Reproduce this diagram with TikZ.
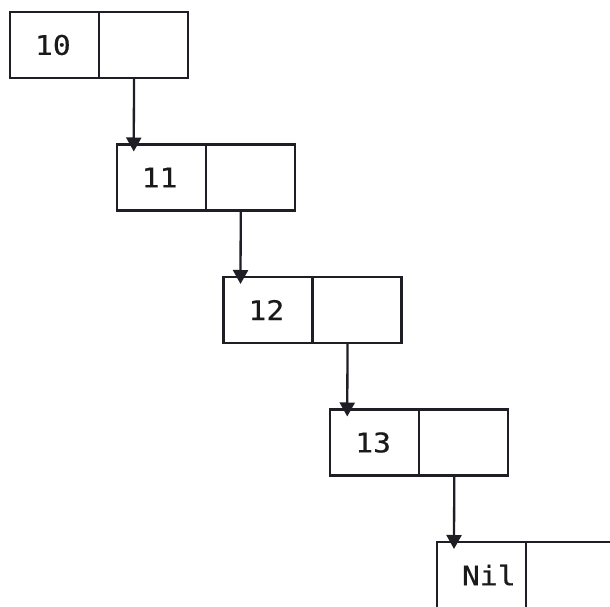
\documentclass[tikz,border=0pt]{standalone}
\usepackage{fontspec}
\newfontfamily\monofnt[FakeStretch=1.1,FakeBold=0.6]{DejaVu Sans Mono}
\usetikzlibrary{arrows.meta}
\definecolor{linecol}{HTML}{1E1E24}
\definecolor{txtcol}{HTML}{1A1A1A}
\begin{document}
\begin{tikzpicture}[x=1pt,y=-1pt,
  cell/.style={draw=linecol, line width=2.3pt, minimum width=89pt, minimum height=66pt,
    inner ysep=0pt, anchor=north west, outer sep=0pt},
  valcell/.style={cell, text width=39pt, inner xsep=25pt, align=left,
    font=\monofnt\fontsize{27}{27}\selectfont, text=txtcol},
  ptrcell/.style={cell, inner sep=0pt},
  link/.style={draw=linecol, line width=2.3pt, -{Triangle[width=15pt,length=14pt]}}]
\useasboundingbox (0,0) rectangle (610,607);
\clip (0,0) rectangle (610,607);
\fill[white] (0,0) rectangle (610,607);
% nodes
\node[valcell] (v0) at (10,12) {10};
\node[ptrcell] (p0) at (v0.north east) {};
\node[valcell] (v1) at (116.75,144.5) {11};
\node[ptrcell] (p1) at (v1.north east) {};
\node[valcell] (v2) at (223.5,277) {12};
\node[ptrcell] (p2) at (v2.north east) {};
\node[valcell] (v3) at (330.25,409.5) {13};
\node[ptrcell] (p3) at (v3.north east) {};
\node[valcell] (v4) at (437,542) {Nil};
\node[ptrcell] (p4) at (v4.north east) {};
% links
\draw[link] ([xshift=35pt]p0.south west) -- ([xshift=17pt,yshift=-7pt]v1.north west);
\draw[link] ([xshift=35pt]p1.south west) -- ([xshift=17pt,yshift=-7pt]v2.north west);
\draw[link] ([xshift=35pt]p2.south west) -- ([xshift=17pt,yshift=-7pt]v3.north west);
\draw[link] ([xshift=35pt]p3.south west) -- ([xshift=17pt,yshift=-7pt]v4.north west);
\end{tikzpicture}
\end{document}
